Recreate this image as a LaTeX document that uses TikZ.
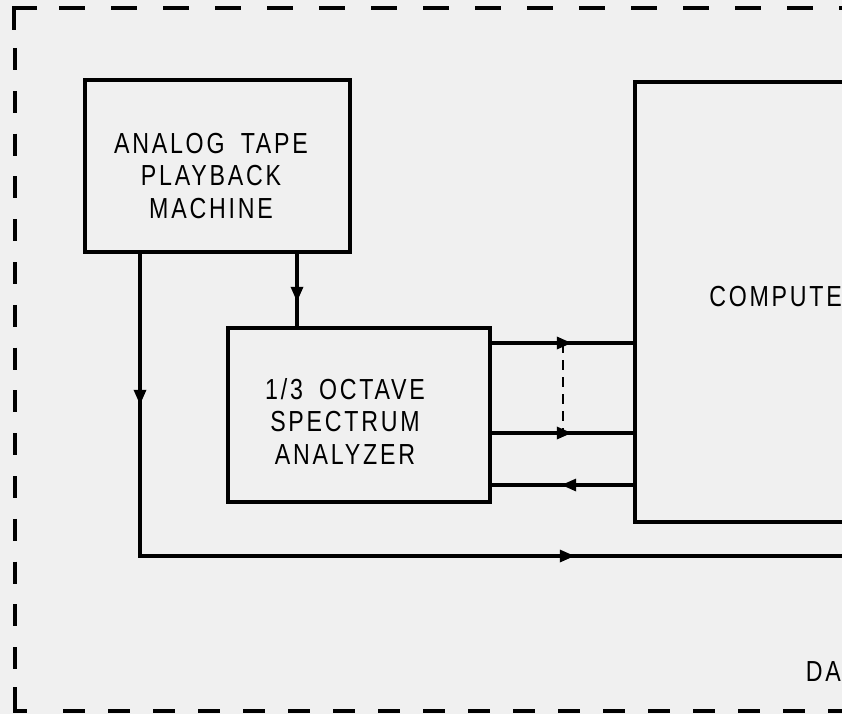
\documentclass[tikz,border=0pt]{standalone}
\usepackage{fontspec}
\setmainfont{Liberation Sans}[FakeStretch=0.8,LetterSpace=9.5]
\usetikzlibrary{arrows.meta,decorations.markings}
\definecolor{paper}{RGB}{240,240,240}
\begin{document}
\begin{tikzpicture}[x=1pt,y=-1pt,
  blk/.style={draw,line width=3.6pt,rectangle,inner sep=0pt},
  lbl/.style={font=\fontsize{29}{32.5}\selectfont,align=center,inner sep=0pt},
  wire/.style={line width=3.2pt},
  tri/.tip={Triangle[length=15pt,width=12pt]},
  arrowat/.style={postaction={decorate},decoration={markings,mark=at position #1 with {\arrow{tri}}}},
  twoarrows/.style 2 args={postaction={decorate},decoration={markings,mark=at position #1 with {\arrow{tri}},mark=at position #2 with {\arrow{tri}}}},
  frame/.style={line width=3.4pt}]
\useasboundingbox (0,0) rectangle (842,714);
\fill[paper] (0,0) rectangle (842,714);
\clip (0,0) rectangle (842,714);
% blocks
\node[blk,minimum width=265pt,minimum height=172pt] (tape) at (217.5,166) {};
\node[lbl] (tapetxt) at (211,176) {ANALOG\hspace{7pt} TAPE\\PLAYBACK\\MACHINE};
\node[blk,minimum width=262pt,minimum height=174pt] (spec) at (359,415) {};
\node[lbl] (spectxt) at (345,421) {1/3\hspace{7pt} OCTAVE\\SPECTRUM\\ANALYZER};
\node[blk,minimum width=365pt,minimum height=440pt] (comp) at (817.5,302) {};
\node[lbl,anchor=east] (comptxt) at (842,297) {COMPUTE};
\node[lbl,anchor=east] (datxt) at (841,672) {DA};
% helper coordinates
\coordinate (x140) at (140,0);
\coordinate (x297) at (297,0);
\coordinate (c1) at (140,556);
\coordinate (out) at (860,556);
\coordinate (y1) at (0,343);
\coordinate (y2) at (0,433);
\coordinate (y3) at (0,485);
\coordinate (d1) at (563,343);
\coordinate (d2) at (563,433);
% connectors
\draw[wire,twoarrows={151pt}{737pt}] (tape.south -| x140) -- (c1) -- (out);
\draw[wire,arrowat=48pt] (tape.south -| x297) -- (spec.north -| x297);
\draw[wire,arrowat=80pt] (spec.east |- y1) -- (comp.west |- y1);
\draw[wire,arrowat=80pt] (spec.east |- y2) -- (comp.west |- y2);
\draw[wire,arrowat=72pt] (comp.west |- y3) -- (spec.east |- y3);
\draw[line width=2.6pt,dash pattern=on 10pt off 7pt] (d1) -- (d2);
% dashed frame
\draw[frame] (37,8) -- (14,8) -- (14,30);
\draw[frame,dash pattern=on 26pt off 26pt] (59,8) -- (842,8);
\draw[frame,dash pattern=on 22pt off 20.8pt] (15,48) -- (15,670);
\draw[frame] (15,687) -- (15,711) -- (27,711);
\draw[frame,line width=4.2pt,dash pattern=on 22pt off 23pt] (63,711) -- (842,711);
\end{tikzpicture}
\end{document}
